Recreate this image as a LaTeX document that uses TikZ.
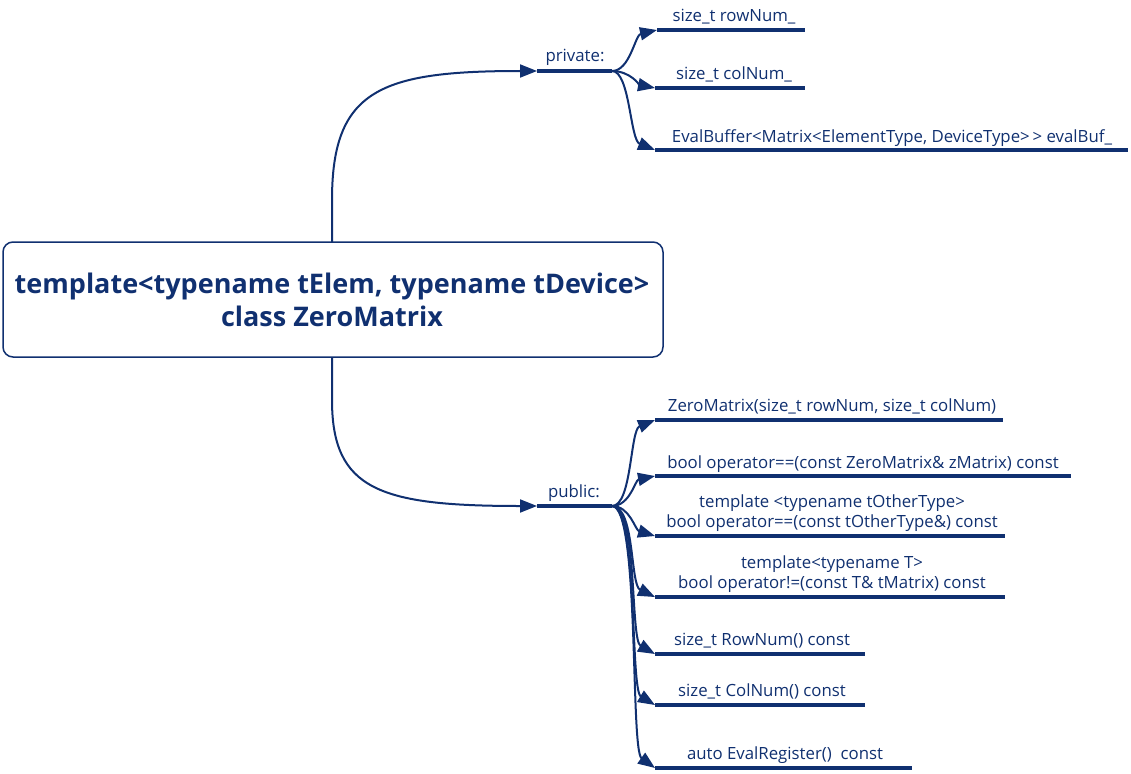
\documentclass[tikz,border=0pt]{standalone}
\usepackage{fontspec}
\setmainfont{Open Sans}
\usetikzlibrary{arrows.meta}
\definecolor{navy}{RGB}{16,48,112}
\begin{document}
\begin{tikzpicture}[x=1pt,y=-1pt,
  lbl/.style={text=navy, font=\fontsize{16.8}{20}\selectfont, inner sep=0pt, anchor=base, align=center},
  rootlbl/.style={text=navy, font=\fontsize{27}{33}\selectfont\bfseries, inner sep=0pt, align=center},
  uline/.style={draw=navy, line width=3.5pt},
  conn/.style={draw=navy, line width=2pt, -{Triangle[length=17pt,width=13pt]}},
  rootbox/.style={draw=navy, line width=1.5pt, rounded corners=10pt}]
\useasboundingbox (0,0) rectangle (1131,773);
% root
\draw[rootbox] (3,242) rectangle (663,357);
\node[rootlbl] (root) at (332,300) {template<typename tElem, typename tDevice>\\class ZeroMatrix};
\coordinate (rtop) at (332,242);
\coordinate (rbot) at (332,357);
% private
\coordinate (prvs) at (537,71);
\coordinate (prve) at (612,71);
\draw[uline] (prvs) -- (prve);
\node[lbl] (prv) at (575,62) {private:};
\draw[conn] (rtop) -- (332,200) .. controls (332,90) and (380,71) .. (prvs);
% public
\coordinate (pubs) at (537,506);
\coordinate (pube) at (612,506);
\draw[uline] (pubs) -- (pube);
\node[lbl] (pub) at (574,497) {public:};
\draw[conn] (rbot) -- (332,400) .. controls (332,490) and (380,506) .. (pubs);
% private children
\coordinate (a1) at (657,30);  \draw[uline] (a1) -- (805,30);
\node[lbl] (ta1) at (734,22) {size\_t rowNum\_};
\coordinate (a2) at (655,88);  \draw[uline] (a2) -- (805,88);
\node[lbl] (ta2) at (734,80) {size\_t colNum\_};
\coordinate (a3) at (655,150); \draw[uline] (a3) -- (1128,150);
\node[lbl] (ta3) at (892,142) {EvalBuffer<Matrix<ElementType, DeviceType>{}\,> evalBuf\_};
\draw[conn] (prve) .. controls (630,71) and (635,35) .. (a1);
\draw[conn] (prve) .. controls (630,71) and (640,85) .. (a2);
\draw[conn] (prve) .. controls (630,71) and (630,140) .. (a3);
% public children
\coordinate (b1) at (655,420); \draw[uline] (b1) -- (1003,420);
\node[lbl] (tb1) at (832,411) {ZeroMatrix(size\_t rowNum, size\_t colNum)};
\coordinate (b2) at (655,476); \draw[uline] (b2) -- (1071,476);
\node[lbl] (tb2) at (863,468) {bool operator{=}{=}(const ZeroMatrix\& zMatrix) const};
\coordinate (b3) at (655,536); \draw[uline] (b3) -- (1005,536);
\node[lbl] (tb3) at (832,527) {template <typename tOtherType>\\bool operator{=}{=}(const tOtherType\&) const};
\coordinate (b4) at (655,597); \draw[uline] (b4) -- (1005,597);
\node[lbl] (tb4) at (832,588) {template<typename T>\\bool operator!=(const T\& tMatrix) const};
\coordinate (b5) at (655,654); \draw[uline] (b5) -- (865,654);
\node[lbl] (tb5) at (762,645) {size\_t RowNum() const};
\coordinate (b6) at (655,705); \draw[uline] (b6) -- (865,705);
\node[lbl] (tb6) at (762,696) {size\_t ColNum() const};
\coordinate (b7) at (655,768); \draw[uline] (b7) -- (912,768);
\node[lbl] (tb7) at (785,759) {auto EvalRegister()\ \ const};
\draw[conn] (pube) .. controls (632,506) and (630,430) .. (b1);
\draw[conn] (pube) .. controls (630,506) and (635,480) .. (b2);
\draw[conn] (pube) .. controls (630,506) and (635,530) .. (b3);
\draw[conn] (pube) .. controls (635,506) and (630,585) .. (b4);
\draw[conn] (pube) .. controls (638,506) and (630,640) .. (b5);
\draw[conn] (pube) .. controls (638,506) and (630,690) .. (b6);
\draw[conn] (pube) .. controls (640,506) and (630,750) .. (b7);
\end{tikzpicture}
\end{document}
